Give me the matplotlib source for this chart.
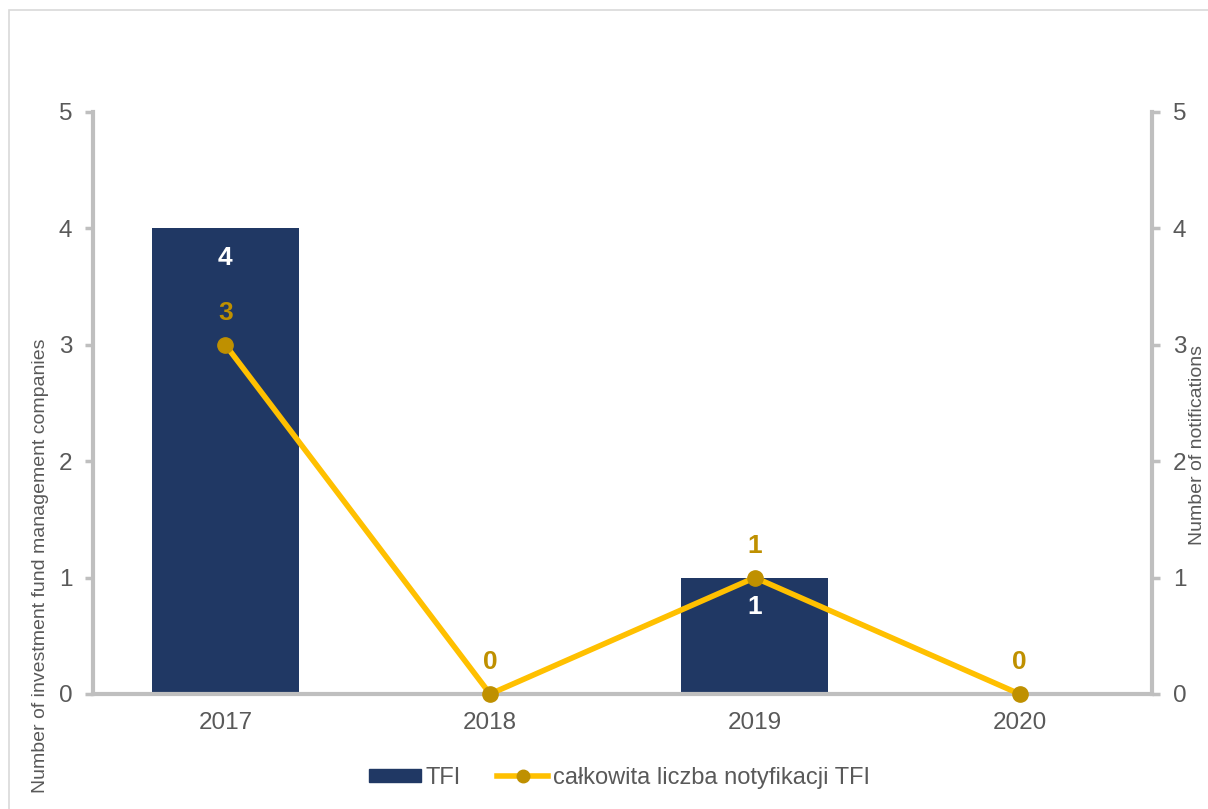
import matplotlib
matplotlib.use("Agg")
import matplotlib.pyplot as plt
from matplotlib.lines import Line2D
from matplotlib.patches import Patch
import numpy as np

plt.rcParams["font.family"] = ["Liberation Sans", "DejaVu Sans"]

years = ["2017", "2018", "2019", "2020"]
tfi_counts = [4, 0, 1, 0]
notifications = [3, 0, 1, 0]

BAR = "#203864"
LINE = "#FFC000"
MARK = "#BF9000"
AXIS = "#BFBFBF"
TEXT = "#595959"

fig = plt.figure(figsize=(12.08, 8.09), dpi=100)
# thin frame around the chart area
fig.patches.append(plt.Rectangle((9 / 1208, -0.01), 1.02, 1 - 10 / 809 + 0.01,
                                 transform=fig.transFigure, fill=False,
                                 edgecolor="#D9D9D9", lw=1.2))

ax = fig.add_axes([93 / 1208, 1 - 694 / 809, (1152 - 93) / 1208, (694 - 112) / 809])
ax2 = ax.twinx()

x = np.arange(len(years))
ax.bar(x, tfi_counts, width=0.555, color=BAR, zorder=2)
ax2.plot(x, notifications, color=LINE, lw=4, marker="o", markersize=11,
         markerfacecolor=MARK, markeredgecolor=MARK, zorder=3, clip_on=False)

for a in (ax, ax2):
    a.set_ylim(0, 5)
    a.set_xlim(-0.5, 3.5)
    a.set_yticks(range(6))
    a.spines["top"].set_visible(False)
    for s in ("left", "right", "bottom"):
        a.spines[s].set_color(AXIS)
        a.spines[s].set_linewidth(3)
    a.tick_params(axis="y", colors=AXIS, labelcolor=TEXT, labelsize=17.5,
                  length=6, width=2.5, pad=9)
ax.spines["right"].set_visible(False)
ax2.spines["left"].set_visible(False)
ax2.spines["bottom"].set_visible(False)
ax.patch.set_visible(False)
ax.set_zorder(ax2.get_zorder() - 1)
ax2.patch.set_visible(False)

ax.set_xticks(x)
ax.set_xticklabels(years)
ax.tick_params(axis="x", length=0, labelsize=17.5, labelcolor=TEXT, pad=13)

ax.set_ylabel("Number of investment fund management companies", fontsize=14,
              color=TEXT)
ax2.set_ylabel("Number of notifications", fontsize=14, color=TEXT)
ax.yaxis.label.set_va("center")
ax2.yaxis.label.set_va("center")
ax.yaxis.set_label_coords(-0.050, 0.22)
ax2.yaxis.set_label_coords(1.0425, 0.428)

# value labels
for xi, v in zip(x, tfi_counts):
    if v > 0:
        ax.annotate(str(v), (xi, v), xytext=(0, -21), textcoords="offset points",
                    ha="center", va="center", color="white", fontsize=19,
                    fontweight="bold")
for xi, v in zip(x, notifications):
    ax2.annotate(str(v), (xi, v), xytext=(0, 23), textcoords="offset points",
                 ha="center", va="center", color=MARK, fontsize=19,
                 fontweight="bold")

handles = [
    Patch(facecolor=BAR, edgecolor=BAR),
    Line2D([0], [0], color=LINE, lw=4, marker="o", markersize=9,
           markerfacecolor=MARK, markeredgecolor=MARK),
]
fig.legend(handles, ["TFI", "całkowita liczba notyfikacji TFI"],
           loc="center", bbox_to_anchor=(0.513, 1 - 778 / 809), ncol=2,
           frameon=False, fontsize=17, labelcolor=TEXT, handlelength=2.2,
           handleheight=0.5, handletextpad=0.2, columnspacing=1.5)

fig.savefig("out.png", dpi=100)
